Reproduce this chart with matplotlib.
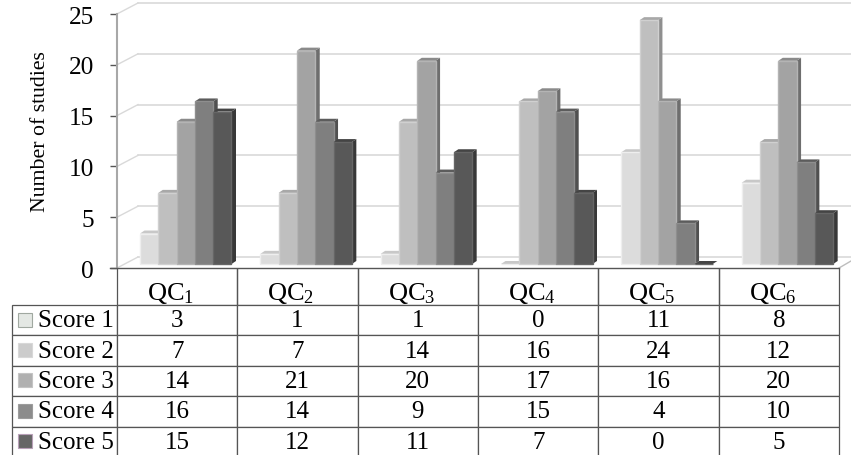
import matplotlib
matplotlib.use("Agg")
import matplotlib.pyplot as plt
from matplotlib.patches import Rectangle

plt.rcParams['font.family'] = ['Liberation Serif', 'DejaVu Serif']
plt.rcParams['mathtext.fontset'] = 'custom'
plt.rcParams['mathtext.rm'] = 'Liberation Serif'
plt.rcParams['mathtext.it'] = 'Liberation Serif'
plt.rcParams['mathtext.default'] = 'rm'

categories = ["QC$_1$", "QC$_2$", "QC$_3$", "QC$_4$", "QC$_5$", "QC$_6$"]
series_names = ["Score 1", "Score 2", "Score 3", "Score 4", "Score 5"]
score_1 = [3, 1, 1, 0, 11, 8]
score_2 = [7, 7, 14, 16, 24, 12]
score_3 = [14, 21, 20, 17, 16, 20]
score_4 = [16, 14, 9, 15, 4, 10]
score_5 = [15, 12, 11, 7, 0, 5]
y_ticks = [0, 5, 10, 15, 20, 25]

scores = [score_1, score_2, score_3, score_4, score_5]
front_colors = ['#dcdcdc', '#bfbfbf', '#a3a3a3', '#7f7f7f', '#585858']
edge_colors = ['#eeeeee', '#d0d0d0', '#b4b4b4', '#8e8e8e', '#666666']
side_colors = ['#b8b8b8', '#8f8f8f', '#6e6e6e', '#505050', '#383838']
top_colors = ['#c8c8c8', '#a8a8a8', '#8a8a8a', '#5c5c5c', '#444444']
swatch_colors = ['#e4e8e4', '#cccccc', '#b0b0b0', '#8c8c8c', '#666666']
swatch_edges = ['#a0a8a0', '#d8d8d8', '#c4c4c4', '#9c9c9c', '#b8a0b8']

W, H = 851, 456
left, right = 117, 839
top, bottom = 15, 269

fig = plt.figure(figsize=(W / 100, H / 100), dpi=100)
ax = fig.add_axes([left / W, 1 - bottom / H, (right - left) / W, (bottom - top) / H])
ax.set_xlim(0, 6)
ax.set_ylim(0, 25)

# pixel sizes turned into data units
px_x = 6 / (right - left)
px_y = 25 / (bottom - top)

# back wall of the fake 3d box
wall_x = 21 * px_x
wall_y = 11 * px_y
for t in y_ticks:
    ax.plot([wall_x, (W - left) * px_x], [t + wall_y, t + wall_y], color='#d9d9d9', lw=1.2,
            clip_on=False, zorder=1)
    ax.plot([0, wall_x], [t, t + wall_y], color='#d9d9d9', lw=1.0, clip_on=False, zorder=1)
ax.plot([6, (W - left) * px_x], [0, 7 * px_y], color='#bdbdbd', lw=1.0, clip_on=False, zorder=1)

# bars
bar_w = 18.3 * px_x
group_start = 23 * px_x
lift = 4 * px_y
depth_x = 4.5 * px_x
depth_y = 3 * px_y
for s, values in enumerate(scores):
    xs = [i + group_start + s * bar_w + bar_w / 2 for i in range(len(values))]
    ax.bar(xs, values, bar_w, bottom=lift, color=front_colors[s], edgecolor=edge_colors[s],
           linewidth=1.0, zorder=3 + s, clip_on=False)
    for x, v in zip(xs, values):
        x1 = x + bar_w / 2
        x0 = x - bar_w / 2
        y1 = v + lift
        ax.fill([x1, x1 + depth_x, x1 + depth_x, x1], [lift, lift + depth_y, y1 + depth_y, y1],
                color=side_colors[s], lw=0, zorder=2.5 + s, clip_on=False)
        ax.fill([x0, x0 + depth_x, x1 + depth_x, x1], [y1, y1 + depth_y, y1 + depth_y, y1],
                color=top_colors[s], lw=0, zorder=2.5 + s, clip_on=False)

ax.set_yticks(y_ticks)
ax.set_xticks([])
ax.tick_params(axis='y', length=5, width=1.0, color='#555555', labelsize=18.2, pad=11.5)
ax.set_ylabel("Number of studies", fontsize=15.7)
ax.yaxis.set_label_coords((50 - left) / (right - left), 0.54)
for name in ['top', 'right', 'bottom']:
    ax.spines[name].set_visible(False)
ax.spines['left'].set_color('#a8a8a8')
ax.spines['left'].set_linewidth(1.5)
ax.plot([-7 * px_x, 6], [0, 0], color='#555555', lw=1.0, clip_on=False, zorder=10)

# data table under the chart, the row names are just its first column
table_left, table_top, table_bottom = 12, 269, 458
header_h = 37
bbox = [(table_left - left) / (right - left),
        (bottom - table_bottom) / (bottom - top),
        (right - table_left) / (right - left),
        (table_bottom - table_top) / (bottom - top)]
label_w = left - table_left
col_w = (right - left) / 6
row_h = (table_bottom - table_top - header_h) / 5
rows = [[series_names[r]] + [str(v) for v in values] for r, values in enumerate(scores)]
tab = ax.table(cellText=rows, colLabels=[""] * 7, cellLoc='center', colLoc='center',
               colWidths=[label_w] + [col_w] * 6, bbox=bbox)
tab.auto_set_font_size(False)
tab.set_fontsize(18)
for (r, c), cell in tab.get_celld().items():
    cell.set_edgecolor('#555555')
    cell.set_linewidth(0.9)
    cell.set_height(header_h if r == 0 else row_h)
    if r == 0:
        cell.visible_edges = 'LRB'
    if c == 0:
        cell.get_text().set_ha('left')
        cell._loc = 'left'
        cell.PAD = 26 / label_w
    if r == 0 and c == 0:
        cell.set_visible(False)

# header names sit left of centre and low in their cells
for i, name in enumerate(categories):
    ax.text(i + 30 * px_x, -31 * px_y, name, fontsize=19, ha='left', va='baseline',
            clip_on=False, zorder=11)

# legend keys inside the row name cells
for s, color in enumerate(swatch_colors):
    y_px = 313.5 + s * 30.4
    fig.add_artist(Rectangle((18 / W, 1 - (y_px + 14) / H), 14 / W, 14 / H, transform=fig.transFigure,
                             facecolor=color, edgecolor=swatch_edges[s], linewidth=0.8))

fig.savefig("out.png", dpi=100)
